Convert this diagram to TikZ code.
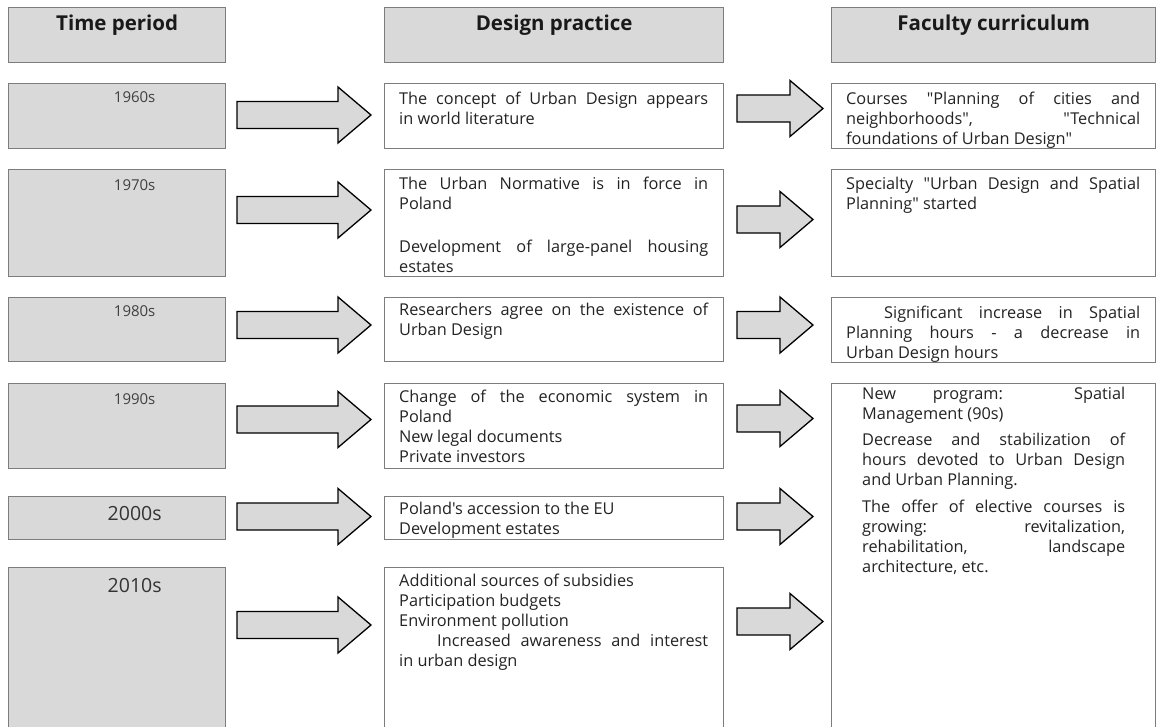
\documentclass[tikz,border=0pt]{standalone}
\usepackage{fontspec}
\setmainfont{Open Sans}[Ligatures=TeXOff]
\usetikzlibrary{positioning,calc}
\definecolor{boxfill}{RGB}{217,217,217}
\definecolor{boxline}{RGB}{125,125,125}
\definecolor{inktext}{RGB}{35,35,35}

\tikzset{
	greybox/.style={draw=boxline, line width=1.3pt, fill=boxfill, anchor=north west, inner sep=0pt},
	whitebox/.style={draw=boxline, line width=1.3pt, fill=white, anchor=north west, inner sep=0pt},
	headtext/.style={font=\fontsize{20.5}{24}\selectfont\bfseries, text=black!90, inner sep=0pt, anchor=base},
	yeartext/.style={font=\fontsize{15}{17}\selectfont, text=black!75, inner sep=0pt, anchor=base},
	bigyear/.style={yeartext, font=\fontsize{19.5}{22}\selectfont, text=black!80},
	celltext/.style={font=\fontsize{16.3}{20}\selectfont, text=inktext, align=justify, inner sep=0pt},
	fatarrow/.style={draw=black, line width=1.3pt, fill=boxfill, line join=miter},
}
% block arrow: start x, tip x, middle y
\newcommand{\fatarrow}[3]{%
	\draw[fatarrow] (#1,#3-13.5) -- (#2-33,#3-13.5) -- (#2-33,#3-28) -- (#2,#3)
		-- (#2-33,#3+28) -- (#2-33,#3+13.5) -- (#1,#3+13.5) -- cycle;}

\begin{document}
\begin{tikzpicture}[x=1pt,y=-1pt]
	\useasboundingbox (0,0) rectangle (1156,726);
	\clip (0,0) rectangle (1156,726);

	% column heads
	\node[greybox, minimum width=217pt, minimum height=55pt] (hTime) at (8,7) {};
	\node[greybox, minimum width=339pt, minimum height=55pt] (hDesign) at (384,7) {};
	\node[greybox, minimum width=324pt, minimum height=55pt] (hFaculty) at (831,7) {};
	\node[headtext] at ([yshift=-23pt]hTime.north) {Time period};
	\node[headtext] at ([yshift=-23pt]hDesign.north) {Design practice};
	\node[headtext] at ([yshift=-23pt]hFaculty.north) {Faculty curriculum};

	% time periods
	\node[greybox, minimum width=217pt, minimum height=65pt] (t1) at (8,83) {};
	\node[greybox, minimum width=217pt, minimum height=107pt] (t2) at (8,169) {};
	\node[greybox, minimum width=217pt, minimum height=64pt] (t3) at (8,297) {};
	\node[greybox, minimum width=217pt, minimum height=85pt] (t4) at (8,383) {};
	\node[greybox, minimum width=217pt, minimum height=43pt] (t5) at (8,496) {};
	\node[greybox, minimum width=217pt, minimum height=180pt] (t6) at (8,567) {};
	\node[yeartext] at ([xshift=17.5pt,yshift=-19pt]t1.north) {1960s};
	\node[yeartext] at ([xshift=17.5pt,yshift=-21pt]t2.north) {1970s};
	\node[yeartext] at ([xshift=17.5pt,yshift=-19pt]t3.north) {1980s};
	\node[yeartext] at ([xshift=17.5pt,yshift=-21pt]t4.north) {1990s};
	\node[bigyear] at ([xshift=17.5pt,yshift=-24pt]t5.north) {2000s};
	\node[bigyear] at ([xshift=17.5pt,yshift=-25pt]t6.north) {2010s};

	% design practice
	\node[whitebox, minimum width=339pt, minimum height=65pt] (d1) at (384,83) {};
	\node[whitebox, minimum width=339pt, minimum height=107pt] (d2) at (384,169) {};
	\node[whitebox, minimum width=339pt, minimum height=64pt] (d3) at (384,297) {};
	\node[whitebox, minimum width=339pt, minimum height=85pt] (d4) at (384,383) {};
	\node[whitebox, minimum width=339pt, minimum height=43pt] (d5) at (384,496) {};
	\node[whitebox, minimum width=339pt, minimum height=180pt] (d6) at (384,567) {};
	\node[celltext, text width=309pt, below right=8.5pt and 15pt of d1.north west] (d1txt)
		{The concept of Urban Design appears\linebreak in world literature};
	\node[celltext, text width=309pt, below right=7.5pt and 15pt of d2.north west] (d2txt)
		{The Urban Normative is in force in\linebreak Poland\par\vspace{23pt}
		Development of large-panel housing\linebreak estates};
	\node[celltext, text width=309pt, below right=5.5pt and 15pt of d3.north west] (d3txt)
		{Researchers agree on the existence of\linebreak Urban Design};
	\node[celltext, text width=309pt, below right=6.5pt and 15pt of d4.north west] (d4txt)
		{Change of the economic system in\linebreak Poland\par New legal documents\par Private investors};
	\node[celltext, text width=309pt, below right=5.5pt and 15pt of d5.north west] (d5txt)
		{Poland's accession to the EU\par Development estates};
	\node[celltext, text width=309pt, below right=6.5pt and 15pt of d6.north west] (d6txt)
		{Additional sources of subsidies\par Participation budgets\par Environment pollution\par
		\hspace*{38pt}Increased awareness and interest\linebreak in urban design};

	% faculty curriculum
	\node[whitebox, minimum width=324pt, minimum height=65pt] (c1) at (831,83) {};
	\node[whitebox, minimum width=324pt, minimum height=107pt] (c2) at (831,169) {};
	\node[whitebox, minimum width=324pt, minimum height=65pt] (c3) at (831,297) {};
	\node[whitebox, minimum width=324pt, minimum height=360pt] (c4) at (831,383) {};
	\node[celltext, text width=294pt, below right=8.5pt and 15pt of c1.north west] (c1txt)
		{Courses "Planning of cities and\linebreak neighborhoods", "Technical\linebreak foundations of Urban Design"};
	\node[celltext, text width=294pt, below right=7.5pt and 15pt of c2.north west] (c2txt)
		{Specialty "Urban Design and Spatial\linebreak Planning" started};
	\node[celltext, text width=294pt, below right=8.5pt and 15pt of c3.north west] (c3txt)
		{\hspace*{38pt}Significant increase in Spatial\linebreak Planning hours - a decrease in\linebreak Urban Design hours};
	\node[celltext, text width=263pt, below right=4pt and 31pt of c4.north west] (c4txt)
		{New program: Spatial\linebreak Management (90s)\par\vspace{6pt}
		Decrease and stabilization of\linebreak hours devoted to Urban Design\linebreak and Urban Planning.\par\vspace{7pt}
		The offer of elective courses is\linebreak growing: revitalization,\linebreak rehabilitation, landscape\linebreak architecture, etc.};

	% arrows period -> practice
	\foreach \y in {115,210,325,419.5,516.5,625}
		\fatarrow{237}{371}{\y};
	% arrows practice -> curriculum
	\fatarrow{737}{823}{108.5}
	\foreach \y in {219.5,325,418.5,516.5}
		\fatarrow{737}{813}{\y};
	\fatarrow{737}{823}{621.5}
\end{tikzpicture}
\end{document}
